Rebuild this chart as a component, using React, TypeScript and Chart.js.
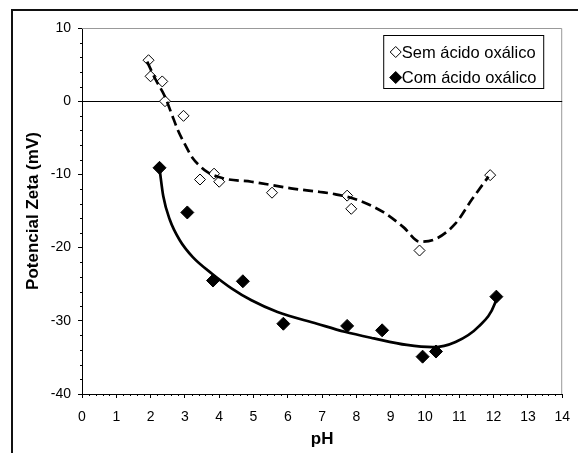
import React, { useEffect, useRef } from 'react';
import { Chart, registerables } from 'chart.js';

Chart.register(...registerables);

// ---- data ----
const semLabel = 'Sem ácido oxálico';
const comLabel = 'Com ácido oxálico';

const semPH = [1.94, 2.0, 2.34, 2.42, 2.96, 3.44, 3.85, 4.0, 5.54, 7.73, 7.85, 9.84, 11.9];
const semZeta = [5.6, 3.4, 2.7, 0.0, -2.0, -10.7, -9.9, -11.0, -12.5, -12.9, -14.7, -20.4, -10.1];

const comPH = [2.26, 3.07, 3.82, 4.69, 5.87, 7.73, 8.75, 9.93, 10.32, 12.08];
const comZeta = [-9.1, -15.2, -24.5, -24.6, -30.4, -30.7, -31.3, -34.9, -34.2, -26.7];

// trend curves
const semTrendPH = [1.9, 2.13, 2.42, 2.61, 2.8, 2.99, 3.23, 3.47, 3.66, 4.18, 4.94, 6.09, 6.94, 7.37, 8.04, 8.8, 9.37, 9.85, 10.32, 10.89, 11.37, 11.85];
const semTrendZeta = [5.4, 3.1, 0.6, -1.7, -4.0, -5.8, -7.8, -9.0, -9.7, -10.6, -11.0, -11.9, -12.4, -12.7, -13.5, -15.2, -17.2, -19.2, -18.8, -16.7, -13.4, -10.3];

const comTrendPH = [2.26, 2.37, 2.56, 2.85, 3.23, 3.8, 4.37, 4.94, 5.7, 6.85, 7.66, 8.51, 9.47, 10.23, 10.89, 11.56, 12.04, 12.09];
const comTrendZeta = [-9.2, -13.0, -16.2, -19.0, -21.3, -23.6, -25.6, -27.2, -28.8, -30.4, -31.5, -32.4, -33.3, -33.6, -32.9, -30.8, -27.6, -26.7];

const xMin = 0, xMax = 14, xStep = 1, xMinor = 0.2;
const yMin = -40, yMax = 10, yStep = 10, yMinor = 2;
const xTitle = 'pH';
const yTitle = 'Potencial Zeta (mV)';

const FONT = "'Liberation Sans', Arial, Helvetica, sans-serif";

const toPoints = (xs: number[], ys: number[]) => xs.map((x, i) => ({ x, y: ys[i] }));

const decorPlugin = {
  id: 'decor',
  beforeDraw(chart: any) {
    const ctx = chart.ctx;
    ctx.save();
    ctx.fillStyle = '#fff';
    ctx.fillRect(0, 0, chart.width, chart.height);
    ctx.strokeStyle = '#111';
    ctx.lineWidth = 2;
    ctx.beginPath();
    ctx.moveTo(12, chart.height);
    ctx.lineTo(12, 10);
    ctx.lineTo(578, 10);
    ctx.stroke();
    ctx.restore();
  },
  beforeDatasetsDraw(chart: any) {
    const { ctx, chartArea, scales } = chart;
    const { left, right, top, bottom } = chartArea;
    const xs = scales.x, ys = scales.y;
    ctx.save();
    ctx.lineWidth = 1;
    ctx.strokeStyle = '#999';
    ctx.beginPath();
    ctx.moveTo(left, top + 0.5);
    ctx.lineTo(right - 0.5, top + 0.5);
    ctx.lineTo(right - 0.5, bottom);
    ctx.stroke();

    const y0 = Math.round(ys.getPixelForValue(0)) + 0.5;
    ctx.strokeStyle = '#000';
    ctx.beginPath();
    ctx.moveTo(left, y0);
    ctx.lineTo(right, y0);
    ctx.stroke();

    // minor ticks
    ctx.beginPath();
    const ny = Math.round((yMax - yMin) / yMinor);
    for (let i = 0; i <= ny; i++) {
      const v = yMin + i * yMinor;
      if (Math.abs(v % yStep) < 1e-9) continue;
      const p = Math.round(ys.getPixelForValue(v)) + 0.5;
      ctx.moveTo(left - 2, p);
      ctx.lineTo(left, p);
    }
    const nx = Math.round((xMax - xMin) / xMinor);
    for (let i = 0; i <= nx; i++) {
      if (i % Math.round(xStep / xMinor) === 0) continue;
      const v = xMin + i * xMinor;
      const p = Math.round(xs.getPixelForValue(v)) + 0.5;
      ctx.moveTo(p, bottom);
      ctx.lineTo(p, bottom + 2);
    }
    ctx.stroke();
    ctx.restore();
  },
  afterDraw(chart: any) {
    const { ctx, chartArea } = chart;
    const bx = chartArea.right - 178.5;
    const by = chartArea.top + 7.5;
    const bw = 160, bh = 53;
    ctx.save();
    ctx.fillStyle = '#fff';
    ctx.fillRect(bx, by, bw, bh);
    ctx.strokeStyle = '#000';
    ctx.lineWidth = 1;
    ctx.strokeRect(bx, by, bw, bh);
    const items = [
      { label: chart.data.datasets[0].label, fill: '#fff', r: 5.5 },
      { label: chart.data.datasets[1].label, fill: '#000', r: 6 },
    ];
    ctx.font = `16.5px ${FONT}`;
    ctx.textBaseline = 'middle';
    ctx.textAlign = 'left';
    items.forEach((it, i) => {
      const cy = by + 16.5 + i * 25.5;
      const cx = bx + 12;
      ctx.beginPath();
      ctx.moveTo(cx, cy - it.r);
      ctx.lineTo(cx + it.r, cy);
      ctx.lineTo(cx, cy + it.r);
      ctx.lineTo(cx - it.r, cy);
      ctx.closePath();
      ctx.fillStyle = it.fill;
      ctx.fill();
      ctx.strokeStyle = '#000';
      ctx.lineWidth = 1;
      ctx.stroke();
      ctx.fillStyle = '#000';
      ctx.fillText(it.label, bx + 18, cy + 1);
    });
    ctx.restore();
  },
};

export default function App() {
  const ref = useRef<HTMLCanvasElement | null>(null);

  useEffect(() => {
    if (!ref.current) return;
    Chart.defaults.font.family = FONT;
    const chart = new Chart(ref.current, {
      type: 'scatter',
      data: {
        datasets: [
          {
            label: semLabel,
            data: toPoints(semPH, semZeta),
            pointStyle: 'rectRot',
            pointRadius: 5.5,
            pointBackgroundColor: '#fff',
            pointBorderColor: '#000',
            pointBorderWidth: 1,
            order: 2,
          },
          {
            label: comLabel,
            data: toPoints(comPH, comZeta),
            pointStyle: 'rectRot',
            pointRadius: 6.5,
            pointBackgroundColor: '#000',
            pointBorderColor: '#000',
            pointBorderWidth: 1,
            order: 2,
          },
          {
            label: 'trend sem',
            data: toPoints(semTrendPH, semTrendZeta),
            showLine: true,
            borderColor: '#000',
            borderWidth: 2.7,
            borderDash: [10, 5],
            pointRadius: 0,
            tension: 0.4,
            cubicInterpolationMode: 'monotone',
            order: 0,
          },
          {
            label: 'trend com',
            data: toPoints(comTrendPH, comTrendZeta),
            showLine: true,
            borderColor: '#000',
            borderWidth: 2.7,
            pointRadius: 0,
            tension: 0.4,
            cubicInterpolationMode: 'monotone',
            order: 0,
          },
        ],
      } as any,
      options: {
        responsive: false,
        animation: false,
        devicePixelRatio: 1,
        layout: { padding: { top: 28, right: 10, left: 0, bottom: 0 } },
        plugins: {
          legend: { display: false },
          tooltip: { enabled: false },
        },
        scales: {
          x: {
            type: 'linear',
            min: xMin,
            max: xMax,
            ticks: { stepSize: xStep, color: '#000', font: { size: 14 }, padding: 11 },
            grid: { drawOnChartArea: false, drawTicks: true, tickLength: 4, color: '#000' },
            border: { display: true, color: '#000', width: 1 },
            title: { display: true, text: xTitle, color: '#000', font: { size: 17, weight: 'bold' }, padding: { top: 0, bottom: 3 } },
            afterFit: (s: any) => { s.height = 59; },
          },
          y: {
            type: 'linear',
            min: yMin,
            max: yMax,
            ticks: { stepSize: yStep, color: '#000', font: { size: 14 }, padding: 7 },
            grid: { drawOnChartArea: false, drawTicks: true, tickLength: 4, color: '#000' },
            border: { display: true, color: '#000', width: 1 },
            title: { display: true, text: yTitle, color: '#000', font: { size: 17, weight: 'bold' }, padding: { top: 23, bottom: 0 } },
            afterFit: (s: any) => { s.width = 82; },
          },
        },
      } as any,
      plugins: [decorPlugin],
    });
    return () => chart.destroy();
  }, []);

  return (
    <div style={{ position: 'fixed', left: 0, top: 0, width: 581, height: 453, background: '#fff' }}>
      <canvas ref={ref} width={581} height={453} style={{ display: 'block', width: 581, height: 453 }} />
    </div>
  );
}
